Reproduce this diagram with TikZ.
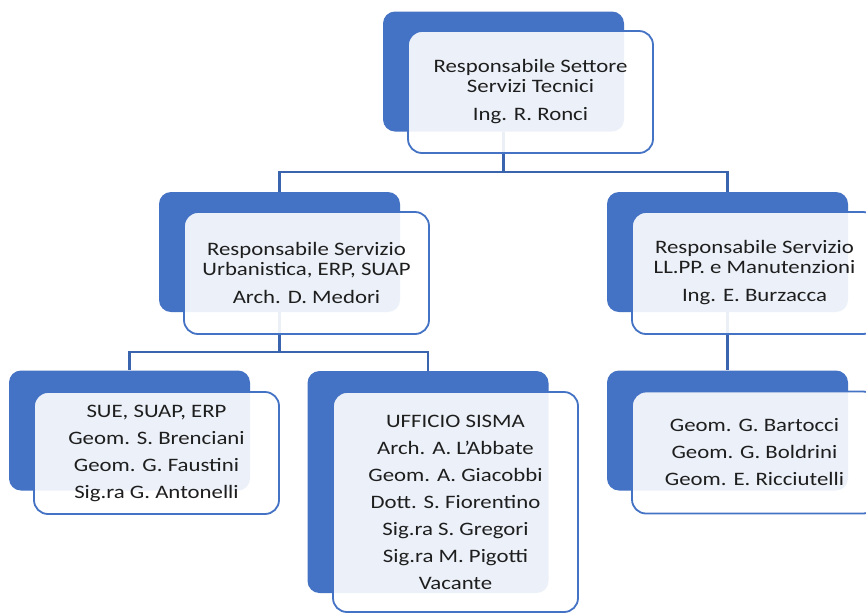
\documentclass[tikz,border=0pt]{standalone}
\usepackage{fontspec}
\setmainfont{Carlito}[FakeStretch=1.2]
\usetikzlibrary{backgrounds}
\definecolor{darkbox}{HTML}{4472C4}
\definecolor{linkcol}{HTML}{3A64AD}
\definecolor{txt}{HTML}{1E1E1E}
\tikzset{
  backbox/.style={fill=darkbox, rounded corners=12pt, minimum width=241pt, minimum height=120pt, inner sep=0pt},
  frontbox/.style={draw=darkbox, line width=1.8pt, fill=white, fill opacity=0.9, text opacity=1,
     rounded corners=14pt, minimum width=245pt, minimum height=122pt, inner sep=0pt,
     align=center, text=txt, font=\fontsize{19}{20}\selectfont},
  listbox/.style={frontbox, font=\fontsize{19}{27}\selectfont},
  link/.style={draw=linkcol, line width=2.4pt}
}
\begin{document}
\begin{tikzpicture}[x=1pt,y=-1pt]
\useasboundingbox (0,0) rectangle (866,614);
\clip (0,0) rectangle (866,614);
% back boxes
\node[backbox] (b0) at (503.5,71.5) {};
\node[backbox] (b1) at (279.5,252) {};
\node[backbox] (b2) at (727.5,252) {};
\node[backbox] (b3) at (129.5,430.5) {};
\node[backbox, minimum height=222pt] (b4) at (428,482) {};
\node[backbox] (b5) at (727.5,430.5) {};
% front boxes
\node[frontbox] (f0) at (530.5,92) {Responsabile Settore\\Servizi Tecnici\\[8pt]Ing. R. Ronci};
\node[frontbox] (f1) at (306.5,273) {Responsabile Servizio\\Urbanistica, ERP, SUAP\\[8pt]Arch. D. Medori};
\node[frontbox] (f2) at (754.5,273) {Responsabile Servizio\\LL.PP. e Manutenzioni\\[8pt]Ing. E. Burzacca};
\node[listbox] (f3) at (156.5,453) {SUE, SUAP, ERP\\Geom. S. Brenciani\\Geom. G. Faustini\\Sig.ra G. Antonelli};
\node[listbox, minimum height=220pt] (f4) at (455.5,502) {UFFICIO SISMA\\Arch. A. L'Abbate\\Geom. A. Giacobbi\\Dott. S. Fiorentino\\Sig.ra S. Gregori\\Sig.ra M. Pigotti\\Vacante};
\node[listbox] (f5) at (754.5,452.5) {Geom. G. Bartocci\\Geom. G. Boldrini\\Geom. E. Ricciutelli};
% connectors
\begin{pgfonlayer}{background}
\fill[white] (0,0) rectangle (866,614);
\draw[link] (b0.south) -- (b0.south |- 0,172) -| (b1.north);
\draw[link] (b0.south) -- (b0.south |- 0,172) -| (b2.north);
\draw[link] (b1.south) -- (b1.south |- 0,352) -| (b3.north);
\draw[link] (b1.south) -- (b1.south |- 0,352) -| (b4.north);
\draw[link] (b2.south) -- (b5.north);
\end{pgfonlayer}
\end{tikzpicture}
\end{document}
